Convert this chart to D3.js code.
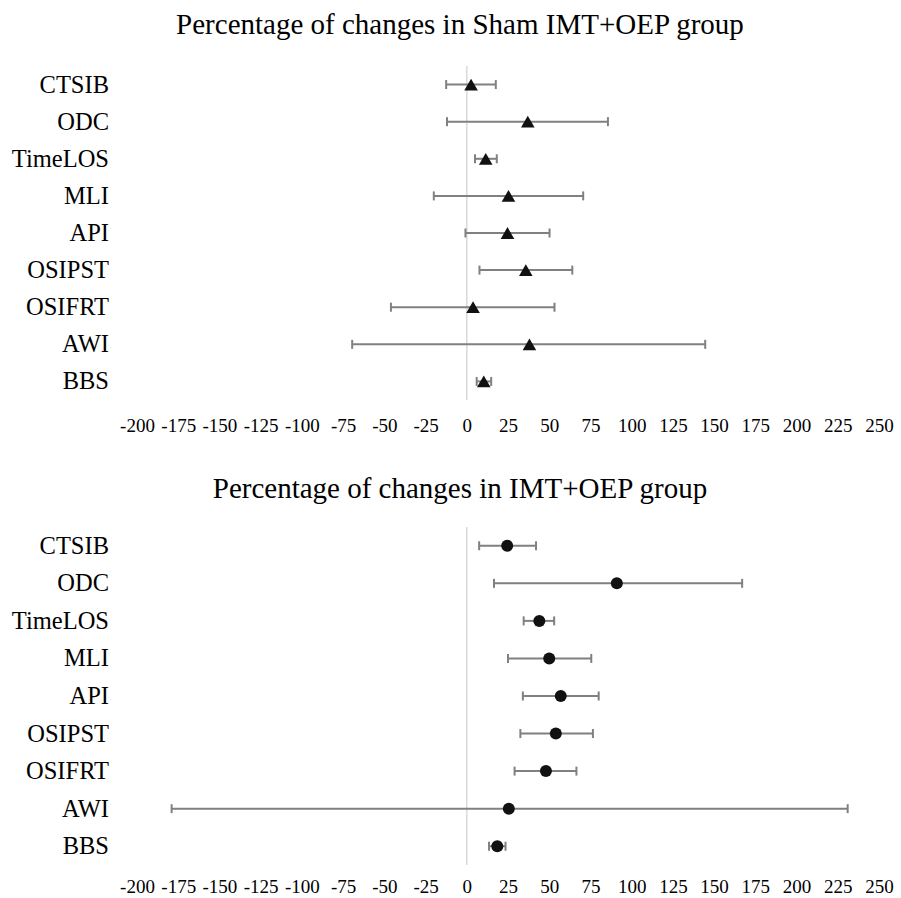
<!DOCTYPE html>
<html>

<head>
    <meta charset="utf-8">
    <style>
        body {
            margin: 0;
            background: white;
        }

        .chart-title {
            font-family: "Liberation Serif", "Times New Roman", serif;
            font-size: 29px;
            fill: #000;
        }

        .cat-label {
            font-family: "Liberation Serif", "Times New Roman", serif;
            font-size: 24.5px;
            fill: #000;
        }

        .x.axis text {
            font-family: "Liberation Serif", "Times New Roman", serif;
            font-size: 19px;
            fill: #000;
        }
    </style>
</head>

<body>
    <svg width="901" height="898"></svg>

<script src="https://d3js.org/d3.v7.min.js"></script>

<script>
    // categories, top to bottom
    const categories = ["CTSIB", "ODC", "TimeLOS", "MLI", "API", "OSIPST", "OSIFRT", "AWI", "BBS"]

    // Sham IMT+OEP group (% change, mean and interval ends)
    const shamMean = [2.6, 37, 11.5, 25.3, 24.7, 35.8, 3.8, 38, 10.3]
    const shamLow = [-12.5, -12, 5, -20, -0.8, 7.7, -46, -69.5, 6]
    const shamHigh = [17.6, 85.6, 18.2, 70.6, 50.2, 64, 53.2, 144.6, 14.8]

    // IMT+OEP group
    const oepMean = [24.5, 91, 44, 50, 57, 54, 48, 25.5, 18.5]
    const oepLow = [7.5, 16.5, 34.5, 25, 34, 32.5, 29, -179, 13.5]
    const oepHigh = [42, 167, 53, 75.5, 80, 76.5, 66.5, 231, 23.5]

    // x axis tick labels
    const xTicks = [-200, -175, -150, -125, -100, -75, -50, -25, 0, 25, 50, 75, 100, 125, 150, 175, 200, 225, 250]

    let svg = d3.select("svg")

    let x = d3.scaleLinear()
        .domain([xTicks[0], xTicks[xTicks.length - 1]])
        .range([137, 879])

    let panels = [
        { title: "Percentage of changes in Sham IMT+OEP group", mean: shamMean, low: shamLow, high: shamHigh,
          marker: "triangle", titleY: 34, top: 66, bottom: 400, tickY: 418 },
        { title: "Percentage of changes in IMT+OEP group", mean: oepMean, low: oepLow, high: oepHigh,
          marker: "circle", titleY: 498, top: 527, bottom: 865, tickY: 879 }
    ]

    panels.forEach(function (p) {
        let rows = categories.map(function (c, i) {
            return { cat: c, mean: p.mean[i], low: p.low[i], high: p.high[i] }
        })

        let y = d3.scaleBand()
            .domain(categories)
            .range([p.top, p.bottom])

        let g = svg.append("g")

        // title
        g.append("text")
            .attr("class", "chart-title")
            .attr("x", 460)
            .attr("y", p.titleY)
            .attr("text-anchor", "middle")
            .text(p.title)

        // zero line
        g.append("line")
            .attr("x1", x(0))
            .attr("x2", x(0))
            .attr("y1", p.top)
            .attr("y2", p.bottom)
            .style("stroke", "#d9d9d9")
            .style("stroke-width", 1.5)

        // x axis, labels only (plain hyphen for negatives, like the original)
        g.append("g")
            .attr("class", "x axis")
            .attr("transform", `translate(0,${p.tickY})`)
            .call(d3.axisBottom(x).tickValues(xTicks).tickSize(0).tickPadding(0).tickFormat(d => String(d)))
            .call(g => g.select(".domain").remove())

        // category labels
        g.selectAll(".cat-label")
            .data(rows)
            .join("text")
            .attr("class", "cat-label")
            .attr("x", 109)
            .attr("y", d => y(d.cat) + y.bandwidth() / 2 + 8)
            .attr("text-anchor", "end")
            .text(d => d.cat)

        let cy = d => y(d.cat) + y.bandwidth() / 2

        // error bars
        let bars = g.append("g")
            .style("stroke", "#808080")
            .style("stroke-width", 2)

        bars.selectAll(".whisker")
            .data(rows)
            .join("line")
            .attr("x1", d => x(d.low))
            .attr("x2", d => x(d.high))
            .attr("y1", cy)
            .attr("y2", cy)

        bars.selectAll(".cap-low")
            .data(rows)
            .join("line")
            .attr("x1", d => x(d.low))
            .attr("x2", d => x(d.low))
            .attr("y1", d => cy(d) - 4.5)
            .attr("y2", d => cy(d) + 4.5)

        bars.selectAll(".cap-high")
            .data(rows)
            .join("line")
            .attr("x1", d => x(d.high))
            .attr("x2", d => x(d.high))
            .attr("y1", d => cy(d) - 4.5)
            .attr("y2", d => cy(d) + 4.5)

        // markers
        if (p.marker == "triangle") {
            let size = 80
            let h = 3 * Math.sqrt(size / (3 * Math.sqrt(3)))
            g.selectAll(".mark")
                .data(rows)
                .join("path")
                .attr("d", d3.symbol(d3.symbolTriangle, size))
                .attr("transform", d => `translate(${x(d.mean)},${cy(d) + h / 6})`)
                .style("fill", "#111")
        } else {
            g.selectAll(".mark")
                .data(rows)
                .join("circle")
                .attr("cx", d => x(d.mean))
                .attr("cy", cy)
                .attr("r", 6)
                .style("fill", "#111")
        }
    })
</script>
</body>

</html>
